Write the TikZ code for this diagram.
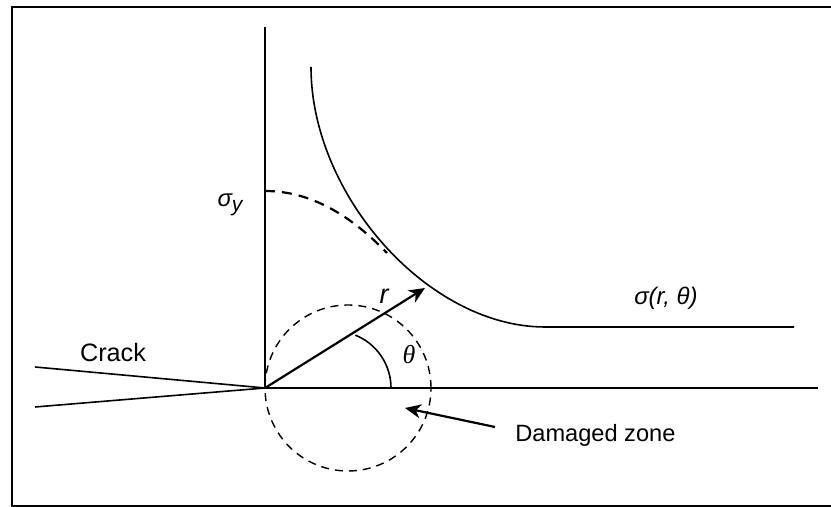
\documentclass[tikz,border=0pt]{standalone}
\usepackage{fontspec}
\setmainfont{Liberation Sans}
\newfontfamily\greekserif{Liberation Serif}
\usetikzlibrary{arrows.meta}
\tikzset{
  frame/.style={line width=0.9pt},
  axis/.style={line width=0.8pt},
  curve/.style={line width=0.8pt},
  zone/.style={line width=0.7pt,dash pattern=on 4pt off 3pt},
  yieldcurve/.style={line width=1.1pt,dash pattern=on 5pt off 3.5pt},
  arr/.style={-{Stealth[length=8pt,width=7pt,inset=2.5pt]},line width=1.1pt},
  lbl/.style={font=\fontsize{12}{14}\selectfont,inner sep=0pt},
  sym/.style={font=\fontsize{12}{14}\selectfont\itshape,inner sep=0pt},
}

\begin{document}
\begin{tikzpicture}[x=0.5pt,y=0.5pt]
  \useasboundingbox (0,0) rectangle (831,507);
  % frame
  \draw[frame] (832,500) -- (12,500) -- (12,1) -- (832,1);
  % axes
  \coordinate (O) at (265,119);
  \coordinate (ytop) at (265,480);
  \coordinate (xend) at (818,119);
  \draw[axis] (ytop) -- (O) -- (xend);
  % crack faces
  \coordinate (crackup) at (35,140);
  \coordinate (crackdn) at (35,100);
  \draw[axis] (crackup) -- (O) -- (crackdn);
  \node[lbl,font=\fontsize{12.6}{14}\selectfont] (crack) at (113,154) {Crack};
  % damaged zone
  \draw[zone] (348,119) circle[radius=83];
  % stress field
  \coordinate (ctop) at (311,440);
  \coordinate (cknee) at (545,180);
  \coordinate (cend) at (794,180);
  \draw[curve] (ctop) .. controls (311,312) and (428,180) .. (cknee) -- (cend);
  \node[sym] (sig) at (666,209) {σ(r,  θ)};
  % yield level
  \coordinate (yld) at (265,316);
  \coordinate (ymeet) at (387,254);
  \draw[yieldcurve] (yld) .. controls (315,316) and (355,287) .. (ymeet);
  \node[sym] (sigy) at (230,302) {σ\raisebox{-0.35ex}{\fontsize{10.5}{12}\selectfont y}};
  % radius and angle
  \coordinate (rtip) at (425,219);
  \draw[arr] (O) -- (rtip);
  \node[sym,font=\fontsize{13.5}{15}\selectfont\itshape] (r) at (384,211) {r};
  \draw[curve] (334,119) ++(68:57) arc[start angle=68,end angle=0,radius=57];
  \node[inner sep=0pt,font=\fontsize{13}{15}\selectfont\greekserif\itshape] (th) at (409,152) {θ};
  % label of the zone
  \node[lbl,anchor=base west,font=\fontsize{11.8}{13}\selectfont] (dz) at (515,65) {Damaged zone};
  \coordinate (dztip) at (405,99);
  \draw[arr] (495,80) -- (dztip);
\end{tikzpicture}
\end{document}
